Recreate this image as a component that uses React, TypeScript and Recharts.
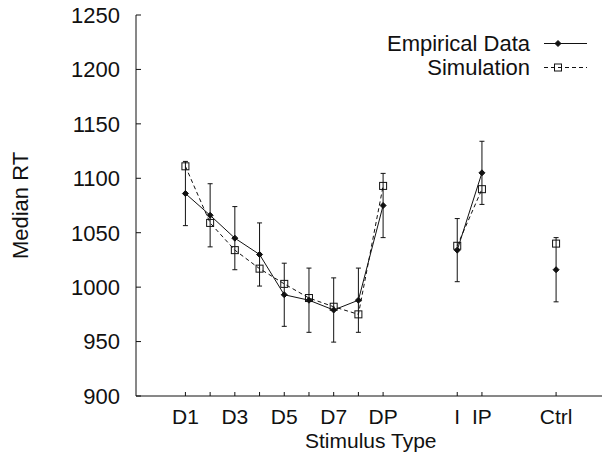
import React from 'react';
import { LineChart, Line, XAxis, YAxis, ErrorBar, Legend } from 'recharts';

// stimulus categories and where they sit on the x axis
const categories = ['D1', 'D2', 'D3', 'D4', 'D5', 'D6', 'D7', 'D8', 'DP', 'I', 'IP', 'Ctrl'];
const positions = [1, 2, 3, 4, 5, 6, 7, 8, 9, 12, 13, 16];
const segments = [0, 0, 0, 0, 0, 0, 0, 0, 0, 1, 1, 2];
const tickLabels = ['D1', '', 'D3', '', 'D5', '', 'D7', '', 'DP', 'I', 'IP', 'Ctrl'];

const empirical = [1086, 1066, 1045, 1030, 993, 988, 979, 988, 1075, 1034, 1105, 1016];
const empiricalErr = [29.5, 29, 29, 29, 29, 29.5, 29.5, 29.5, 29.5, 29, 29, 29.5];
const simulation = [1111, 1059, 1034, 1017, 1003, 990, 982, 975, 1093, 1038, 1090, 1040];

const yTicks = [900, 950, 1000, 1050, 1100, 1150, 1200, 1250];
const xDomain = [-1, 18];
const yDomain = [900, 1250];

const FONT = '"Liberation Sans", Arial, sans-serif';
const INK = '#111';

const rows = categories.map((c, i) => ({
  name: c,
  x: positions[i],
  seg: segments[i],
  emp: empirical[i],
  empErr: empiricalErr[i],
  sim: simulation[i],
}));
const segmentData = [0, 1, 2].map((s) => rows.filter((r) => r.seg === s));

const Diamond = ({ cx, cy }: any) => {
  if (cx == null || cy == null) return null;
  return (
    <polygon
      points={`${cx},${cy - 3} ${cx + 3},${cy} ${cx},${cy + 3} ${cx - 3},${cy}`}
      fill={INK}
      stroke={INK}
      strokeWidth={1}
    />
  );
};

const Square = ({ cx, cy }: any) => {
  if (cx == null || cy == null) return null;
  return <rect x={cx - 3.5} y={cy - 3.5} width={7} height={7} fill="none" stroke={INK} strokeWidth={1} />;
};

const BottomTick = ({ x, y, payload }: any) => {
  const i = positions.indexOf(payload.value);
  return (
    <g>
      <line x1={x} y1={y} x2={x} y2={y - 4} stroke={INK} />
      <text x={x} y={y + 28} textAnchor="middle" fontSize={21} fontFamily={FONT} fill={INK}>
        {tickLabels[i]}
      </text>
    </g>
  );
};

const TopTick = ({ x, y }: any) => <line x1={x} y1={y} x2={x} y2={y + 4} stroke={INK} />;

const LeftTick = ({ x, y, payload }: any) => (
  <g>
    <line x1={x} y1={y} x2={x + 5} y2={y} stroke={INK} />
    <text x={x - 16} y={y} dy="0.36em" textAnchor="end" fontSize={22} fontFamily={FONT} fill={INK}>
      {payload.value}
    </text>
  </g>
);

const RightTick = ({ x, y }: any) => <line x1={x} y1={y} x2={x - 5} y2={y} stroke={INK} />;

const XTitle = ({ viewBox }: any) => (
  <text
    x={viewBox.x + viewBox.width / 2}
    y={viewBox.y + 52}
    textAnchor="middle"
    fontSize={21}
    fontFamily={FONT}
    fill={INK}
  >
    Stimulus Type
  </text>
);

const YTitle = ({ viewBox }: any) => {
  const cy = viewBox.y + viewBox.height / 2;
  return (
    <text
      x={28}
      y={cy}
      transform={`rotate(-90, 28, ${cy})`}
      textAnchor="middle"
      fontSize={22}
      fontFamily={FONT}
      fill={INK}
    >
      Median RT
    </text>
  );
};

const legendItems = [
  { label: 'Empirical Data', dash: undefined, marker: 'diamond' },
  { label: 'Simulation', dash: '4 3', marker: 'square' },
];

const LegendBox = () => (
  <svg width={610} height={90} style={{ display: 'block' }}>
    {legendItems.map((it, i) => {
      const cy = 43.5 + i * 24;
      return (
        <g key={it.label}>
          <text x={530} y={cy + 7.5} textAnchor="end" fontSize={22} fontFamily={FONT} fill={INK}>
            {it.label}
          </text>
          <line x1={544} y1={cy} x2={587} y2={cy} stroke={INK} strokeDasharray={it.dash} />
          {it.marker === 'diamond' ? <Diamond cx={558} cy={cy} /> : <Square cx={558} cy={cy} />}
        </g>
      );
    })}
  </svg>
);

export default function App() {
  return (
    <div
      style={{
        position: 'absolute',
        left: 0,
        top: 0,
        width: 602,
        height: 453,
        overflow: 'hidden',
        background: '#fff',
      }}
    >
      <LineChart width={610} height={453} margin={{ top: 15, right: 4.5, bottom: 0, left: 0 }}>
        <XAxis
          xAxisId="bottom"
          dataKey="x"
          type="number"
          domain={xDomain}
          ticks={positions}
          interval={0}
          allowDataOverflow
          height={57}
          tickSize={0}
          tickMargin={0}
          tickLine={false}
          tick={<BottomTick />}
          axisLine={{ stroke: INK }}
          label={XTitle}
        />
        <XAxis
          xAxisId="top"
          orientation="top"
          dataKey="x"
          type="number"
          domain={xDomain}
          ticks={positions}
          interval={0}
          allowDataOverflow
          height={0}
          tickSize={0}
          tickMargin={0}
          tickLine={false}
          tick={<TopTick />}
          axisLine={{ stroke: INK }}
        />
        <YAxis
          yAxisId="left"
          type="number"
          domain={yDomain}
          ticks={yTicks}
          interval={0}
          allowDataOverflow
          width={136}
          tickSize={0}
          tickMargin={0}
          tickLine={false}
          tick={<LeftTick />}
          axisLine={{ stroke: INK }}
          label={YTitle}
        />
        <YAxis
          yAxisId="right"
          orientation="right"
          type="number"
          domain={yDomain}
          ticks={yTicks}
          interval={0}
          allowDataOverflow
          width={0}
          tickSize={0}
          tickMargin={0}
          tickLine={false}
          tick={<RightTick />}
          axisLine={{ stroke: INK }}
        />
        <Legend
          layout="vertical"
          align="center"
          verticalAlign="middle"
          content={<LegendBox />}
          wrapperStyle={{ position: 'absolute', left: 0, top: 0, width: 610, height: 90 }}
        />
        {segmentData.map((d, s) => (
          <Line
            key={`sim-${s}`}
            data={d}
            xAxisId="bottom"
            yAxisId="left"
            dataKey="sim"
            name="Simulation"
            stroke={INK}
            strokeWidth={1}
            strokeDasharray="4 3"
            dot={<Square />}
            activeDot={false}
            legendType="none"
            isAnimationActive={false}
          />
        ))}
        {segmentData.map((d, s) => (
          <Line
            key={`emp-${s}`}
            data={d}
            xAxisId="bottom"
            yAxisId="left"
            dataKey="emp"
            name="Empirical Data"
            stroke={INK}
            strokeWidth={1}
            dot={<Diamond />}
            activeDot={false}
            legendType="none"
            isAnimationActive={false}
          >
            <ErrorBar dataKey="empErr" direction="y" width={2.5} stroke={INK} strokeWidth={1} />
          </Line>
        ))}
      </LineChart>
    </div>
  );
}
